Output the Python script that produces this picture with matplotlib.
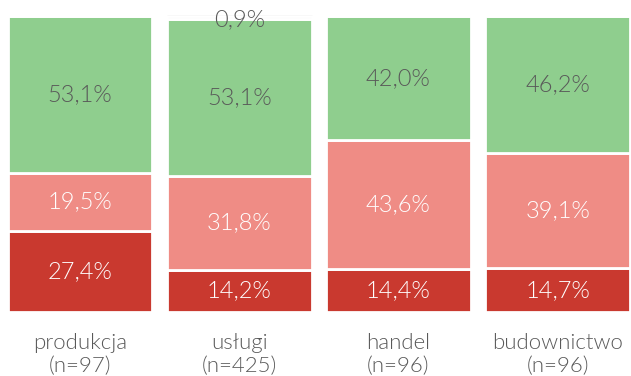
import matplotlib
matplotlib.use("Agg")
import matplotlib.pyplot as plt
import numpy as np

# Sector groups and sample sizes
categories = ["produkcja", "usługi", "handel", "budownictwo"]
sample_sizes = [97, 425, 96, 96]

# Share of responses per segment (percent), bottom to top
seg_dark = [27.4, 14.2, 14.4, 14.7]
seg_light = [19.5, 31.8, 43.6, 39.1]
seg_green = [53.1, 53.1, 42.0, 46.2]
seg_other = [0.0, 0.9, 0.0, 0.0]

colors = {
    "dark": "#C9392F",
    "light": "#EF8C85",
    "green": "#8FCE8E",
    "other": "#F4F4F4",
}
text_gray = "#595959"

plt.rcParams["font.family"] = ["Lato", "DejaVu Sans"]

W, H = 631, 376
fig = plt.figure(figsize=(W / 100, H / 100), dpi=100)
spacing = 159.2
ax = fig.add_axes([0, (H - 312) / H, 1, 296 / H])
ax.set_xlim(-80 / spacing, (W - 80) / spacing)
ax.set_ylim(0, 100)

x = np.arange(len(categories))
width = 0.91
bottom = np.zeros(len(categories))
layers = [
    (seg_dark, colors["dark"], "white"),
    (seg_light, colors["light"], "white"),
    (seg_green, colors["green"], text_gray),
    (seg_other, colors["other"], text_gray),
]
for vals, col, tcol in layers:
    vals = np.array(vals)
    ax.bar(x, vals, width, bottom=bottom, color=col, edgecolor="white",
           linewidth=2)
    for xi, v, b in zip(x, vals, bottom):
        if v <= 0:
            continue
        label = f"{v:.1f}%".replace(".", ",")
        ypos = b + v / 2
        if v < 3:
            ypos = b + v - 1.2
        ax.text(xi, ypos, label, ha="center", va="center", color=tcol,
                fontsize=17, fontweight=300)
    bottom += vals

# Thin line at the top of the tiny segment
ax.plot([x[1] - width / 2, x[1] + width / 2], [100, 100], color="#DDDDDD",
        lw=1, solid_capstyle="butt", clip_on=False, zorder=0)

ax.set_xticks(x)
ax.set_xticklabels([f"{c}\n(n={n})" for c, n in zip(categories, sample_sizes)],
                   fontsize=16, color=text_gray, linespacing=1.2,
                   fontweight=300)
ax.tick_params(axis="x", length=0, pad=15)
ax.set_yticks([])
for s in ax.spines.values():
    s.set_visible(False)

fig.savefig("out.png", dpi=100)
